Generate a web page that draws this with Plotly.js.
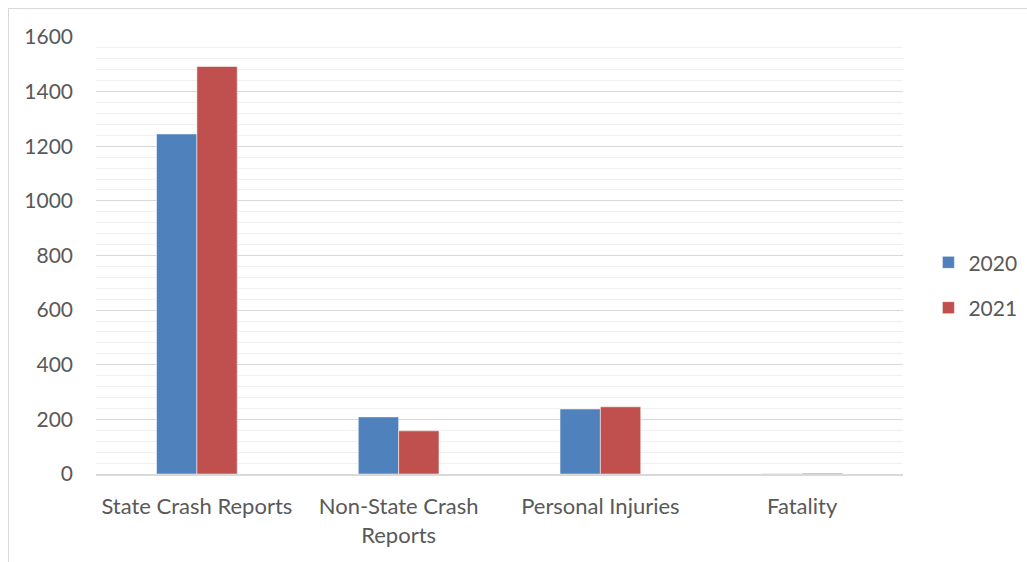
<!DOCTYPE html>
<html><head><meta charset="utf-8">
<script src="https://cdn.plot.ly/plotly-3.0.1.min.js"></script>
<style>html,body{margin:0;padding:0;background:#fff}#chart{width:1027px;height:562px}
#frame{position:absolute;left:8px;top:8px;width:1040px;height:600px;border:1px solid #d9d9d9;pointer-events:none}</style>
</head><body><div id="chart"></div><div id="frame"></div>
<script>
const categories = ["State Crash Reports", "Non-State Crash<br>Reports", "Personal Injuries", "Fatality"];
const series2020 = [1245, 209, 238, 1];
const series2021 = [1492, 158, 246, 3];
const seriesNames = ["2020", "2021"];
const colors = ["#4f81bd", "#c0504d"];
const yTicks = [0, 200, 400, 600, 800, 1000, 1200, 1400, 1600];

const traces = [series2020, series2021].map((vals, i) => ({
  type: "bar", x: categories, y: vals, name: seriesNames[i], legendgroup: "g" + i,
  marker: {color: colors[i], line: {color: "#ffffff", width: 0.5}}
}));

const layout = {
  width: 1027, height: 562,
  margin: {l: 96, r: 124, t: 37, b: 88},
  paper_bgcolor: "#fff", plot_bgcolor: "#fff",
  barmode: "group", bargap: 0.6, bargroupgap: 0,
  font: {family: "Lato, Open Sans, sans-serif", color: "#595959", size: 20},
  xaxis: {showgrid: false, showline: true, linecolor: "#d9d9d9", linewidth: 1.5, ticks: "", tickfont: {size: 22}, ticklabelstandoff: 12, automargin: false},
  yaxis: {range: [0, 1600], tickvals: yTicks, showgrid: true, gridcolor: "#d9d9d9", gridwidth: 1,
    minor: {dtick: 40, showgrid: true, gridcolor: "#efefef", gridwidth: 1},
    zeroline: false, showline: false, ticks: "", tickfont: {size: 21}, ticklabelstandoff: 22, automargin: false},
  legend: {xref: "container", yref: "container", x: 0.904, y: 0.4925, yanchor: "middle", xanchor: "left",
    font: {size: 21}, tracegroupgap: 15, itemwidth: 30}
};
Plotly.newPlot("chart", traces, layout, {displayModeBar: false, staticPlot: true});
</script></body></html>
